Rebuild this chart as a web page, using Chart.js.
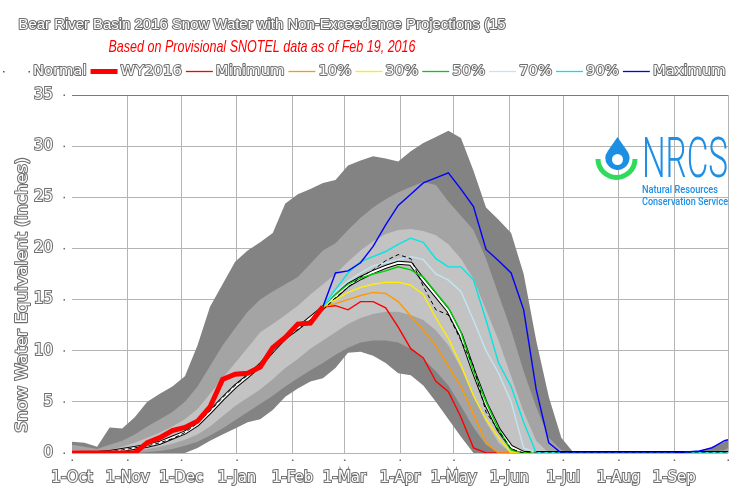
<!DOCTYPE html>
<html><head><meta charset="utf-8">
<script src="https://cdn.jsdelivr.net/npm/chart.js@4.4.1/dist/chart.umd.min.js"></script>
<style>html,body{margin:0;padding:0;background:#fff;} #wrap{width:730px;height:496px;}</style>
</head><body><div id="wrap"><canvas id="c" width="730" height="496"></canvas></div>
<script>
// ---- data (inches of snow water equivalent), x = days since 1-Oct ----
const days = [0,7,14,21,28,35,42,49,56,63,70,77,84,91,98,105,112,119,126,133,140,147,154,161,168,175,182,189,196,203,210,217,224,231,238,245,252,259,266,273,280,287,294,301,308,315,322,329,336,343,350,357,364,366];
const monthTicks = [0,31,61,92,123,152,183,213,244,274,305,336,366];
const monthLabels = ['1-Oct','1-Nov','1-Dec','1-Jan','1-Feb','1-Mar','1-Apr','1-May','1-Jun','1-Jul','1-Aug','1-Sep',''];
const yTickValues = [0,5,10,15,20,25,30,35];

const bandMax = [1.1,1.0,0.6,2.5,2.4,3.5,5.0,5.8,6.5,7.5, 10.5,14.3,16.5,18.7,19.8,20.6,21.5,24.4,25.3,25.8, 26.4,26.7,28.1,28.6,29.0,28.8,28.5,29.5,30.3,30.9, 31.5,30.8,27.6,24.0,22.8,21.5,17.5,11.0,5.5,1.5, 0,0,0,0,0,0,0,0,0,0.1, 0.2,0.6,1.1,1.3];
const band90 = [0.8,0.6,0.4,0.8,1.2,1.8,2.6,3.3,4.0,5.0, 6.5,8.5,10.5,12.2,13.8,15.0,15.8,16.5,17.2,18.5, 19.8,20.5,21.8,23.0,24.0,24.8,25.5,26.0,26.5,26.2, 24.6,23.2,21.8,19.0,15.5,12.0,8.0,4.5,1.5,0.3, 0,0,0,0,0,0,0,0,0,0, 0,0.1,0.3,0.5];
const band70 = [0.3,0.2,0.1,0.3,0.6,1.0,1.5,2.0,2.6,3.3, 4.3,5.8,7.3,8.8,10.3,11.8,12.6,13.5,14.4,15.5, 16.5,17.5,18.7,19.8,20.7,21.4,21.8,21.9,21.7,21.3, 20.4,19.0,17.0,14.0,11.0,7.5,4.0,1.2,0,0, 0,0,0,0,0,0,0,0,0,0, 0,0,0,0.1];
const band30 = [0,0,0,0,0.1,0.2,0.4,0.6,0.9,1.3, 1.8,2.6,3.6,4.6,5.4,6.2,7.2,8.3,9.2,10.2, 11.0,11.8,12.6,13.2,13.6,13.8,13.8,13.5,13.0,12.0, 10.5,8.3,5.5,3.0,1.0,0,0,0,0,0, 0,0,0,0,0,0,0,0,0,0, 0,0,0,0];
const band10 = [0,0,0,0,0,0,0.1,0.2,0.4,0.7, 1.1,1.7,2.4,3.2,4.0,4.8,5.6,6.5,7.3,8.1, 8.8,9.6,10.3,10.8,11.0,11.0,10.8,10.2,9.2,8.0, 6.6,4.6,2.5,0.8,0,0,0,0,0,0, 0,0,0,0,0,0,0,0,0,0, 0,0,0,0];
const bandMin = [0,0,0,0,0,0,0,0,0,0, 0.5,1.2,1.8,2.4,3.0,3.3,4.2,5.5,6.3,7.0, 7.3,8.3,9.8,9.9,9.5,8.8,7.8,7.6,6.6,5.0, 3.3,1.6,0,0,0,0,0,0,0,0, 0,0,0,0,0,0,0,0,0,0, 0,0,0,0];
const median = [0,0,0,0.1,0.3,0.5,0.7,1.0,1.5,2.0, 2.8,4.0,5.3,6.5,7.5,8.6,10.0,11.3,12.2,13.2, 14.2,15.3,16.4,17.1,17.7,18.2,18.6,18.5,16.9,15.4, 13.9,11.5,8.0,4.8,2.3,0.6,0,0,0,0, 0,0,0,0,0,0,0,0,0,0, 0,0,0,0];
const normal = [0,0,0,0.1,0.3,0.5,0.7,1.0,1.4,2.0, 2.9,4.1,5.4,6.6,7.6,8.7,10.0,11.2,12.1,13.0, 14.0,15.2,16.2,17.2,17.9,18.8,19.4,19.0,16.3,14.0, 13.5,11.0,8.5,4.0,2.2,0.4,0,0,0,0, 0,0,0,0,0,0,0,0,0,0, 0,0,0,0];
const wy2016 = [0,0,0,0,0,0,1.0,1.5,2.2,2.5, 3.1,4.5,7.2,7.7,7.8,8.4,10.3,11.3,12.6,12.7, 14.3];
const N = null;
const projMax = [N,N,N,N,N,N,N,N,N,N, N,N,N,N,N,N,N,N,N,N, 14.3,17.6,17.8,18.6,20.2,22.3,24.2,25.3,26.4,26.9, 27.4,25.8,24.1,19.9,18.8,17.6,14.0,6.2,1.0,0, 0,0,0,0,0,0,0,0,0,0.1, 0.2,0.5,1.2,1.3];
const proj90 = [N,N,N,N,N,N,N,N,N,N, N,N,N,N,N,N,N,N,N,N, 14.3,16.0,17.6,18.7,19.2,19.7,20.4,21.0,20.6,19.0, 18.2,18.2,16.9,13.0,8.8,6.5,3.0,0,0,0, 0,0,0,0,0,0,0,0,0,0, 0,0,0,0];
const proj70 = [N,N,N,N,N,N,N,N,N,N, N,N,N,N,N,N,N,N,N,N, 14.3,15.8,16.8,17.6,18.3,18.6,18.9,19.2,18.9,17.5, 16.9,15.8,13.0,10.0,7.8,5.0,0.5,0,0,0, 0,0,0,0,0,0,0,0,0,0, 0,0,0,0];
const proj50 = [N,N,N,N,N,N,N,N,N,N, N,N,N,N,N,N,N,N,N,N, 14.3,15.5,16.5,17.1,17.5,17.8,18.2,17.9,17.2,15.7, 14.2,11.8,8.0,5.0,2.3,0.3,0,0,0,0, 0,0,0,0,0,0,0,0,0,0, 0,0,0,0];
const proj30 = [N,N,N,N,N,N,N,N,N,N, N,N,N,N,N,N,N,N,N,N, 14.3,15.0,15.7,16.2,16.5,16.7,16.7,16.4,15.5,13.2, 11.2,8.6,5.6,3.3,1.5,0,0,0,0,0, 0,0,0,0,0,0,0,0,0,0, 0,0,0,0];
const proj10 = [N,N,N,N,N,N,N,N,N,N, N,N,N,N,N,N,N,N,N,N, 14.3,14.6,15.0,15.4,15.7,15.6,14.8,13.4,12.0,10.5, 8.5,6.5,3.8,1.0,0,0,0,0,0,0, 0,0,0,0,0,0,0,0,0,0, 0,0,0,0];
const projMin = [N,N,N,N,N,N,N,N,N,N, N,N,N,N,N,N,N,N,N,N, 14.3,14.4,14.0,14.8,14.8,14.2,12.3,10.2,9.3,7.0, 6.0,3.5,0.5,0,0,0,0,0,0,0, 0,0,0,0,0,0,0,0,0,0, 0,0,0,0];

const titleText = 'Bear River Basin 2016 Snow Water with Non-Exceedence Projections (15';
const subtitleText = 'Based on Provisional SNOTEL data as of Feb 19, 2016';
const yTitleText = 'Snow Water Equivalent (inches)';

// ---- helpers ----
const pts = arr => days.map((d, i) => (arr[i] == null ? null : {x: d, y: arr[i]})).filter(p => p);
const line = (label, data, color, width, extra) => Object.assign({
  label, data: pts(data), borderColor: color, borderWidth: width, pointRadius: 0, fill: false, tension: 0
}, extra || {});
const band = (label, data, color, target) => ({
  label, data: pts(data), borderColor: 'rgba(0,0,0,0)', borderWidth: 1, pointRadius: 0, tension: 0,
  backgroundColor: color, fill: target == null ? false : {target: target}
});

const C_DARK = '#838383', C_MED = '#a4a4a4', C_LIGHT = '#c3c3c3';
const legendItems = [
  {label: 'Normal', kind: 'normal'},
  {label: 'WY2016', color: '#ff0000', width: 5},
  {label: 'Minimum', color: '#ff0000', width: 1.3},
  {label: '10%', color: '#ff9900', width: 1.3},
  {label: '30%', color: '#ffee00', width: 1.3},
  {label: '50%', color: '#00d000', width: 1.3},
  {label: '70%', color: '#c0e6f5', width: 1.3},
  {label: '90%', color: '#00e6e6', width: 1.3},
  {label: 'Maximum', color: '#0000ff', width: 1.3}
];

function outlined(ctx, text, x, y, font, opt) {
  opt = opt || {};
  ctx.save();
  ctx.font = font;
  ctx.textBaseline = 'middle';
  ctx.textAlign = opt.align || 'center';
  const w = ctx.measureText(text).width;
  const sx = opt.width ? opt.width / w : 1;
  ctx.translate(x, y);
  if (opt.rotate) ctx.rotate(opt.rotate);
  ctx.scale(sx, 1);
  ctx.lineJoin = 'round';
  ctx.lineWidth = 2;
  ctx.strokeStyle = opt.stroke || '#6e6e6e';
  ctx.strokeText(text, 0, 0);
  ctx.fillStyle = '#ffffff';
  ctx.fillText(text, 0, 0);
  ctx.restore();
  return w * sx;
}

const decor = {
  id: 'decor',
  afterDatasetsDraw(chart) {
    const ctx = chart.ctx;
    // NRCS logo
    ctx.save();
    const cx = 617.5, cy = 158;
    ctx.strokeStyle = '#2edb5a';
    ctx.lineWidth = 5;
    ctx.beginPath();
    ctx.arc(cx - 1, cy + 1, 18.5, 0, Math.PI);
    ctx.stroke();
    const r = 12, tipY = 137;
    const d = cy - tipY, phi = Math.acos(r / d);
    const a1 = -Math.PI / 2 + phi, a2 = -Math.PI / 2 - phi;
    ctx.fillStyle = '#1c8fe3';
    ctx.beginPath();
    ctx.moveTo(cx, tipY);
    ctx.lineTo(cx + r * Math.cos(a1), cy + r * Math.sin(a1));
    ctx.arc(cx, cy, r, a1, a2 + 2 * Math.PI);
    ctx.closePath();
    ctx.fill();
    ctx.fillStyle = '#ffffff';
    ctx.beginPath();
    ctx.arc(cx, cy + 1.5, 5.5, 0, 2 * Math.PI);
    ctx.fill();
    ctx.fillStyle = '#1f8fe5';
    ctx.textBaseline = 'alphabetic';
    ctx.textAlign = 'left';
    const fitText = (t, x, y, font, width) => {
      ctx.save(); ctx.font = font;
      const w = ctx.measureText(t).width;
      ctx.translate(x, y); ctx.scale(width / w, 1); ctx.fillText(t, 0, 0); ctx.restore();
    };
    fitText('NRCS', 642, 177, '300 55px Roboto', 86);
    fitText('Natural Resources', 642, 193, '500 11px Roboto', 76);
    fitText('Conservation Service', 642, 204.5, '500 11px Roboto', 86);
    ctx.restore();
  },
  afterDraw(chart) {
    const ctx = chart.ctx;
    // title + subtitle
    outlined(ctx, titleText, 262, 25, '14px "Liberation Sans"', {width: 487});
    ctx.save();
    ctx.font = 'italic 16.5px "Liberation Sans Narrow", "Liberation Sans"';
    ctx.textBaseline = 'middle'; ctx.textAlign = 'center';
    const sw = ctx.measureText(subtitleText).width;
    ctx.translate(262, 47.5); ctx.scale(307 / sw, 1);
    ctx.fillStyle = '#ff0000';
    ctx.fillText(subtitleText, 0, 0);
    ctx.restore();
    // legend
    let x = 3; const ly = 71.5;
    ctx.save();
    legendItems.forEach(it => {
      const x0 = x, x1 = x + 27;
      if (it.kind === 'normal') {
        ctx.fillStyle = '#555';
        ctx.fillRect(x0, ly - 0.5, 1.5, 1.5);
        ctx.fillRect(x1 - 1.5, ly - 0.5, 1.5, 1.5);
      } else {
        ctx.strokeStyle = it.color; ctx.lineWidth = it.width;
        ctx.beginPath(); ctx.moveTo(x0, ly); ctx.lineTo(x1, ly); ctx.stroke();
      }
      const w = outlined(ctx, it.label, x1 + 3, ly, '14.8px "DejaVu Sans"', {align: 'left'});
      x = x1 + 3 + w + 4;
    });
    ctx.restore();
    // y axis title
    outlined(ctx, yTitleText, 23, 295, '15px "DejaVu Sans"', {rotate: -Math.PI / 2, width: 275});
    // tick dots
    const xs = chart.scales.x, ys = chart.scales.y;
    ctx.save();
    ctx.fillStyle = '#666';
    yTickValues.forEach(v => { const p = ys.getPixelForValue(v); ctx.fillRect(63.5, p - 0.5, 1.5, 1.5); });
    monthTicks.forEach(v => { const p = xs.getPixelForValue(v); ctx.fillRect(p - 0.5, 459.5, 1.5, 1.5); });
    ctx.restore();
  }
};

const tickFont = {family: 'DejaVu Sans', size: 15};
new Chart(document.getElementById('c'), {
  type: 'line',
  data: {
    datasets: [
      line('WY2016', wy2016, '#ff0000', 5),
      line('Normal', normal, '#000000', 1, {borderDash: [4, 3]}),
      line('Maximum', projMax, '#0000ff', 1.4),
      line('90%', proj90, '#00e6e6', 1.4),
      line('70%', proj70, '#c0e6f5', 1.4),
      line('50%', proj50, '#00d000', 1.4),
      line('30%', proj30, '#ffee00', 1.4),
      line('10%', proj10, '#ff9900', 1.4),
      line('Minimum', projMin, '#ff0000', 1.4),
      line('Median', median, '#ffffff', 2),
      line('Median edge', median, '#000000', 4),
      band('70th pct', band70, C_LIGHT, 12),
      band('30th pct', band30, C_LIGHT, null),
      band('90th pct', band90, C_MED, 14),
      band('10th pct', band10, C_MED, null),
      band('Max', bandMax, C_DARK, 16),
      band('Min', bandMin, C_DARK, null)
    ]
  },
  options: {
    responsive: false, animation: false, devicePixelRatio: 1,
    layout: {padding: {top: 95, right: 2, bottom: 0, left: 0}},
    plugins: {legend: {display: false}, title: {display: false}, tooltip: {enabled: false}, filler: {propagate: false}},
    elements: {point: {radius: 0}},
    scales: {
      x: {
        type: 'linear', min: 0, max: 366,
        afterBuildTicks: s => { s.ticks = monthTicks.map(v => ({value: v})); },
        afterFit: s => { s.height = 43; s.paddingLeft = 0; s.paddingRight = 0; },
        ticks: {
          autoSkip: false, maxRotation: 0, minRotation: 0,
          callback: v => monthLabels[monthTicks.indexOf(v)],
          font: tickFont, color: '#ffffff', textStrokeColor: '#6e6e6e', textStrokeWidth: 2, padding: 16
        },
        grid: {color: c => (c.tick && c.tick.value === 0 ? 'rgba(0,0,0,0)' : '#b4b4b4'), drawTicks: false},
        border: {display: false}
      },
      y: {
        min: 0, max: 35,
        afterBuildTicks: s => { s.ticks = yTickValues.map(v => ({value: v})); },
        afterFit: s => { s.width = 72; },
        ticks: {font: tickFont, color: '#ffffff', textStrokeColor: '#6e6e6e', textStrokeWidth: 2, padding: 19},
        grid: {color: c => (c.tick && c.tick.value === 35 ? '#7a7a7a' : '#b4b4b4'), drawTicks: false},
        border: {display: false}
      }
    }
  },
  plugins: [decor]
});
</script></body></html>
